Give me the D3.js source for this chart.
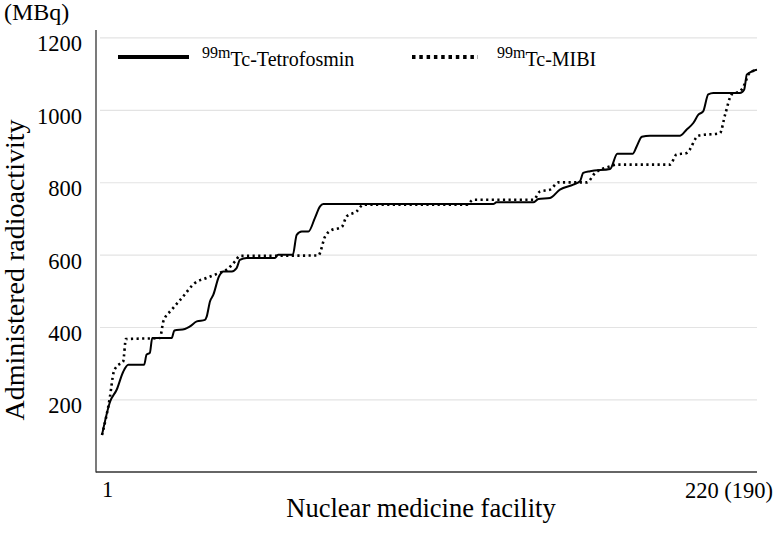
<!DOCTYPE html>
<html><head><meta charset="utf-8">
<script src="https://cdn.jsdelivr.net/npm/d3@7/dist/d3.min.js"></script>
<style>body{margin:0;background:#fff}svg{display:block}</style>
</head><body><svg id="c" width="774" height="533"></svg>
<script>
// Tetrofosmin: facility rank (1..220) and administered activity (MBq), read at the curve's vertices
const tetroRank = [1,3.7,5.9,8.1,9.8,15.1,15.9,17.0,17.8,24.3,25.2,28.7,30.4,32.7,35.4,36.0,37.1,38.2,40.1,41.6,44.4,46.0,47.1,49.4,58.8,59.9,64.8,66.1,67.8,70.0,72.2,73.9,75.0,131.8,132.9,145.2,146.9,150.8,154.1,158.6,160.8,161.9,164.2,170.9,173.3,178.4,179.8,181.5,184.2,194.3,196.5,198.7,200.4,202.0,203.7,205.4,214.3,215.7,216.6,217.7,219.3,220];
const tetroMBq  = [103,195,228,278,297,297,325,330,371,371,392,396,403,417,421,430,472,490,541,555,555,564,587,592,592,601,601,656,665,665,703,735,741,741,746,746,755,758,781,795,804,827,832,838,880,880,901,927,930,930,947,965,988,997,1044,1048,1048,1057,1099,1105,1111,1112];
// MIBI: facility rank (1..190)
const mibiRank = [1,3.3,4.3,5.2,7.1,7.9,17.7,18.7,21.1,24.0,27.8,31.2,34.6,37.0,39.4,40.8,63.4,65.4,66.8,70.2,71.6,74.5,76.4,106.2,108.1,125.5,127.4,130.3,132.7,140.9,143.3,147.6,149.5,164.9,166.8,169.7,173.1,179.3,180.8,182.7,185.1,186.6,187.5,188.9,190];
const mibiMBq  = [103,209,274,292,306,368,371,417,449,481,523,537,550,560,583,598,599,652,667,678,707,721,739,739,753,753,776,781,801,801,827,845,850,850,878,882,930,937,988,1044,1053,1076,1099,1109,1112];
const yTicks = [200,400,600,800,1000,1200];
const xTickLabels = ["1","220 (190)"];
const seriesNames = ["Tc-Tetrofosmin","Tc-MIBI"];
const isotope = "99m";

const svg = d3.select("#c").style("font-family",'"Liberation Serif","Times New Roman",serif');
const y = d3.scaleLinear().domain([0,1222]).range([472.3,30]);
const xT = d3.scaleLinear().domain([1,220]).range([102,757]);
const xM = d3.scaleLinear().domain([1,190]).range([102,757]);

// gridlines
svg.append("g").selectAll("line").data(yTicks).join("line")
  .attr("x1",100).attr("x2",757).attr("y1",d=>y(d)).attr("y2",d=>y(d))
  .attr("stroke","#e3e3e3").attr("stroke-width",1.2);
// y tick labels
svg.append("g").selectAll("text").data(yTicks).join("text")
  .attr("x",82).attr("y",d=>y(d)+13.5).attr("text-anchor","end")
  .attr("font-size",22.5).text(d=>d);
// axes
svg.append("line").attr("x1",96).attr("x2",96).attr("y1",30).attr("y2",472.5).attr("stroke","#333").attr("stroke-width",1.3);
svg.append("line").attr("x1",96).attr("x2",757).attr("y1",472).attr("y2",472).attr("stroke","#333").attr("stroke-width",1.3);

// x tick labels
svg.append("text").attr("x",xT(1)).attr("y",497).attr("font-size",22.5).attr("text-anchor","start").text(xTickLabels[0]);
svg.append("text").attr("x",773).attr("y",498).attr("font-size",22.5).attr("text-anchor","end").text(xTickLabels[1]);

// titles
svg.append("text").attr("x",4).attr("y",20).attr("font-size",24).text("(MBq)");
svg.append("text").attr("transform","translate(24,270) rotate(-90)").attr("text-anchor","middle").attr("font-size",28).text("Administered radioactivity");
svg.append("text").attr("x",421).attr("y",517).attr("text-anchor","middle").attr("font-size",26.5).text("Nuclear medicine facility");

// lines
const lineT = d3.line().x(d=>xT(d[0])).y(d=>y(d[1])).curve(d3.curveMonotoneX);
const lineM = d3.line().x(d=>xM(d[0])).y(d=>y(d[1])).curve(d3.curveMonotoneX);
svg.append("path").datum(tetroRank.map((r,i)=>[r,tetroMBq[i]])).attr("d",lineT)
  .attr("fill","none").attr("stroke","#000").attr("stroke-width",2);
svg.append("path").datum(mibiRank.map((r,i)=>[r,mibiMBq[i]])).attr("d",lineM)
  .attr("fill","none").attr("stroke","#000").attr("stroke-width",2.6)
  .attr("stroke-dasharray","2.2,3.4");

// legend
svg.append("line").attr("x1",118).attr("x2",189).attr("y1",57).attr("y2",57).attr("stroke","#000").attr("stroke-width",4);
svg.append("line").attr("x1",412).attr("x2",478).attr("y1",57).attr("y2",57).attr("stroke","#000").attr("stroke-width",4).attr("stroke-dasharray","3.5,3.8");
function legText(x,name){
  const t = svg.append("text").attr("x",x).attr("y",66).attr("font-size",20);
  t.append("tspan").attr("font-size",16).attr("dy",-8).text(isotope);
  t.append("tspan").attr("dy",8).text(name);
}
legText(202,seriesNames[0]);
legText(497,seriesNames[1]);
</script></body></html>
